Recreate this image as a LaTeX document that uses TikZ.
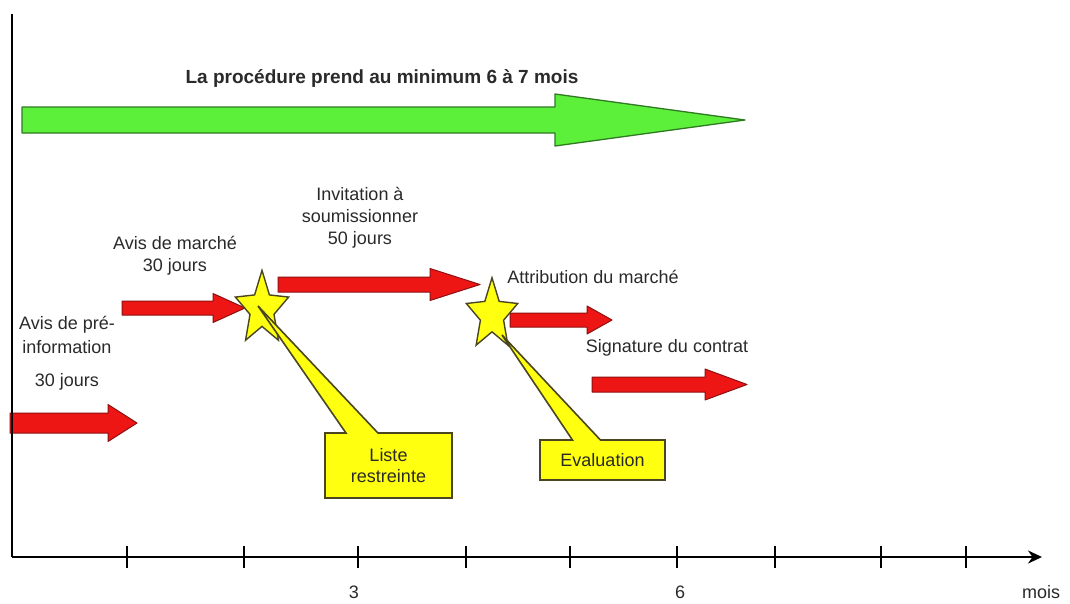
\documentclass[tikz,border=0pt]{standalone}
\usepackage{fontspec}
\setmainfont{Liberation Sans}
\usetikzlibrary{shapes.callouts,arrows.meta}
\definecolor{redfill}{HTML}{EE1515}
\definecolor{redline}{HTML}{8E1010}
\definecolor{greenfill}{HTML}{5CF03A}
\definecolor{greenline}{HTML}{2F7A22}
\definecolor{yellowfill}{HTML}{FFFF10}
\definecolor{yellowline}{HTML}{4A4620}
\definecolor{txt}{HTML}{2A2A2A}
\newcommand{\blockarrow}[7]{% style, x1, x2, yc, body half, head x, head half
  \draw[#1] (#2,{#4-#5}) -- (#6,{#4-#5}) -- (#6,{#4-#7}) -- (#3,#4)
    -- (#6,{#4+#7}) -- (#6,{#4+#5}) -- (#2,{#4+#5}) -- cycle;}
\begin{document}
\begin{tikzpicture}[x=1pt,y=-1pt,
  lbl/.style={font=\fontsize{18}{22}\selectfont, text=txt, inner sep=0pt, align=center},
  redarrow/.style={fill=redfill, draw=redline, line width=1pt, line join=round},
  greenarrow/.style={fill=greenfill, draw=greenline, line width=1.3pt, line join=round},
  starstyle/.style={fill=yellowfill, draw=yellowline, line width=1.4pt, line join=miter},
  calloutbox/.style={rectangle callout, fill=yellowfill, draw=yellowline, line width=1.6pt,
     inner sep=0pt, font=\fontsize{18}{21}\selectfont, text=txt, align=center},
  axisline/.style={line width=2.6pt, black},
  tickmark/.style={line width=2pt, black}]
\useasboundingbox (0,0) rectangle (1070,603);
\fill[white] (0,0) rectangle (1070,603);

% axes
\coordinate (top) at (12,14);
\coordinate (origin) at (12,557);
\coordinate (axend) at (1042,557);
\draw[axisline, -{Stealth[length=14pt,width=13pt]}] (origin) -- (axend);
\foreach \t/\x in {1/127,2/244,3/358,4/466,5/570,6/677,7/775,8/881,9/966} {
  \coordinate (t\t) at (\x,557);
  \draw[tickmark] ([yshift=-11pt]t\t) -- ([yshift=11pt]t\t);
}
\node[lbl] (l3) at (354,592) {3};
\node[lbl] (l6) at (680,592) {6};
\node[lbl] (lmois) at (1041,592) {mois};

% green arrow and title
\blockarrow{greenarrow}{22}{745}{120}{13}{555}{26}
\node[lbl, font=\bfseries\fontsize{19}{22}\selectfont] (title) at (382,78) {La procédure prend au minimum 6 à 7 mois};

% red arrows
\blockarrow{redarrow}{10}{137}{423}{10}{108}{18.5}
\blockarrow{redarrow}{122}{245}{308}{7}{213}{14.5}
\blockarrow{redarrow}{278}{480}{284.5}{7.5}{430}{16}
\blockarrow{redarrow}{510}{612}{320}{7}{587}{14}
\blockarrow{redarrow}{592}{747}{384.5}{7.5}{705}{15.5}
\draw[axisline] (top) -- (origin);

% labels
\node[lbl] (pre1) at (67,325) {Avis de pré-};
\node[lbl] (pre2) at (67,347) {information};
\node[lbl] (pre3) at (67,382) {30 jours};
\node[lbl] (marche) at (175,256) {Avis de marché\\30 jours};
\node[lbl] (invit) at (360,218) {Invitation à\\soumissionner\\50 jours};
\node[lbl] (attrib) at (593,277) {Attribution du marché};
\node[lbl] (signat) at (667,348) {Signature du contrat};

% stars
\coordinate (s1) at (262,309);
\coordinate (s2) at (492,315);
\draw[starstyle, yscale=1.38, shift={(262,309/1.38)}] (270:28)
  \foreach \k in {1,...,5} { -- ({270+72*\k-36}:12.6) -- ({270+72*\k}:28) } -- cycle;
\draw[starstyle, yscale=1.38, shift={(492,315/1.38)}] (270:27)
  \foreach \k in {1,...,5} { -- ({270+72*\k-36}:12.2) -- ({270+72*\k}:27) } -- cycle;

% callouts
\coordinate (p1) at (258,306);
\coordinate (p2) at (502,335);
\node[calloutbox, minimum width=127pt, minimum height=65pt,
  callout absolute pointer={(p1)}, callout pointer width=32pt] (liste) at (388.5,465.5) {Liste\\restreinte};
\node[calloutbox, minimum width=125pt, minimum height=40pt,
  callout absolute pointer={(p2)}, callout pointer width=28pt] (eval) at (602.5,460) {Evaluation};
\end{tikzpicture}
\end{document}
